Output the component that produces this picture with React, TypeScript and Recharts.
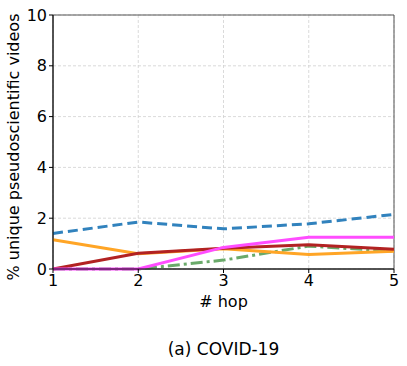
import { LineChart, Line, XAxis, YAxis, CartesianGrid, ReferenceArea } from "recharts";

const hops = [1, 2, 3, 4, 5];
const blueDashed = [1.4, 1.85, 1.58, 1.78, 2.15];
const orange = [1.15, 0.6, 0.8, 0.57, 0.7];
const darkRed = [0, 0.62, 0.82, 0.95, 0.78];
const magenta = [0, 0, 0.85, 1.25, 1.25];
const greenDashDot = [0, 0, 0.35, 0.9, 0.7];
const yTicks = [0, 2, 4, 6, 8, 10];

const data = hops.map((h, i) => ({
  hop: h,
  blue: blueDashed[i],
  orange: orange[i],
  red: darkRed[i],
  magenta: magenta[i],
  green: greenDashDot[i],
}));

const font = "'DejaVu Sans', sans-serif";

// rotated y label, placed by hand next to the ticks
const YLabel = () => (
  <text
    x={19}
    y={147}
    transform="rotate(-90 19 147)"
    textAnchor="middle"
    fontSize={16}
    fill="#000"
    fontFamily={font}
  >
    % unique pseudoscientific videos
  </text>
);

export default function App() {
  return (
    <div style={{ position: "absolute", left: 0, top: 0, width: 407, height: 366, background: "#fff", fontFamily: font }}>
      <LineChart width={407} height={366} data={data} margin={{ top: 15, right: 13, left: 0, bottom: 57 }}>
        <CartesianGrid stroke="#d0d0d0" strokeDasharray="3 2" strokeWidth={0.8} />
        <XAxis
          dataKey="hop"
          type="number"
          domain={[1, 5]}
          ticks={hops}
          height={40}
          tick={{ fontSize: 16, fill: "#000", fontFamily: font }}
          tickLine={{ stroke: "#000" }}
          axisLine={{ stroke: "#000" }}
          tickSize={4}
          label={{ value: "# hop", position: "insideBottom", offset: 2, fontSize: 16, fill: "#000", fontFamily: font }}
        />
        <YAxis
          domain={[0, 10]}
          ticks={yTicks}
          width={53}
          tick={{ fontSize: 16, fill: "#000", fontFamily: font }}
          tickLine={{ stroke: "#000" }}
          axisLine={{ stroke: "#000" }}
          tickSize={4}
          label={<YLabel />}
        />
        <ReferenceArea x1={1} x2={5} y1={0} y2={10} fill="none" stroke="#555" strokeWidth={1} ifOverflow="visible" />
        <Line dataKey="green" stroke="#6aaa6a" strokeWidth={3} strokeDasharray="12 4 3 4" dot={false} isAnimationActive={false} />
        <Line dataKey="orange" stroke="#ffa526" strokeWidth={3} dot={false} isAnimationActive={false} />
        <Line dataKey="red" stroke="#b22222" strokeWidth={3} dot={false} isAnimationActive={false} />
        <Line dataKey="magenta" stroke="#ff4dff" strokeWidth={3} dot={false} isAnimationActive={false} />
        <Line dataKey="blue" stroke="#3182bd" strokeWidth={3} strokeDasharray="10 5" dot={false} isAnimationActive={false} />
      </LineChart>
      <div style={{ position: "absolute", top: 339, left: 53, width: 341, textAlign: "center", fontSize: 17, color: "#000" }}>
        (a) COVID-19
      </div>
    </div>
  );
}
